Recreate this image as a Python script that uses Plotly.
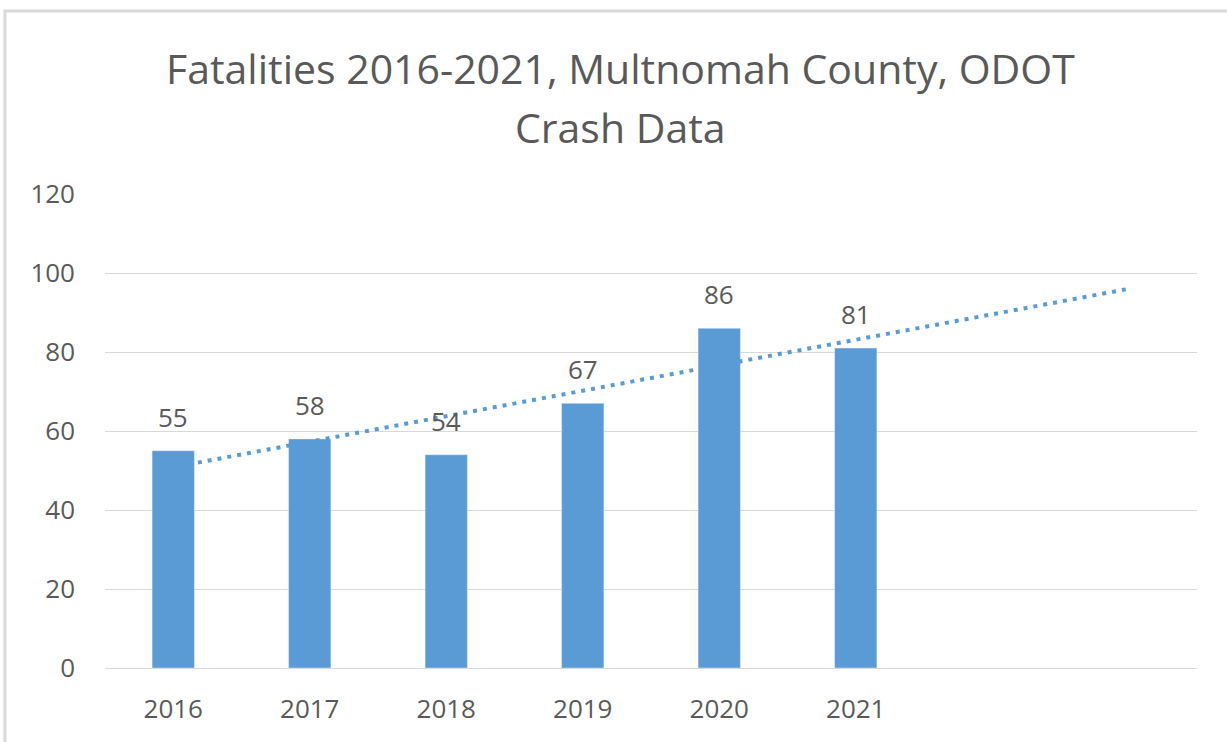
import plotly.graph_objects as go

# fatalities per year (ODOT crash data)
years = [2016, 2017, 2018, 2019, 2020, 2021]
fatalities = [55, 58, 54, 67, 86, 81]
year_labels = ['2016', '2017', '2018', '2019', '2020', '2021']

# linear trend line as drawn in the chart
trend_x = [2016.18, 2023.0]
trend_y = [52, 96]

title_lines = ['Fatalities 2016-2021, Multnomah County, ODOT', 'Crash Data']

bar_color = '#5b9bd5'
text_color = '#595959'
font = 'Open Sans'

fig = go.Figure()
fig.add_trace(go.Bar(x=years, y=fatalities, marker_color=bar_color,
                     width=0.31, showlegend=False))
fig.add_trace(go.Scatter(x=trend_x, y=trend_y, mode='lines',
                         line=dict(color=bar_color, width=4, dash='4px,6px'),
                         showlegend=False))

# data labels above the bars
for yr, val in zip(years, fatalities):
    fig.add_annotation(x=yr, y=val, text=str(val), showarrow=False,
                       yanchor='bottom', yshift=14,
                       font=dict(family=font, size=26, color=text_color))

# two-line title, spaced like the original
for line, ypos in zip(title_lines, [1.2658, 1.1414]):
    fig.add_annotation(xref='paper', yref='paper', x=0.472, y=ypos,
                       text=line, showarrow=False, xanchor='center',
                       yanchor='middle',
                       font=dict(family=font, size=41, color=text_color))

# light border of the chart area
fig.add_shape(type='rect', xref='paper', yref='paper',
              x0=-0.0916, x1=1.2, y0=-0.2, y1=1.386,
              line=dict(color='#d9d9d9', width=3))

fig.update_layout(
    width=1227, height=742,
    margin=dict(l=105, r=30, t=194, b=74),
    paper_bgcolor='white', plot_bgcolor='white',
)
fig.update_xaxes(range=[2015.5, 2023.5], tickvals=years, ticktext=year_labels,
                 showgrid=False, zeroline=False, showline=True,
                 linecolor='#d9d9d9', linewidth=1, ticks='',
                 ticklabelstandoff=18,
                 tickfont=dict(family=font, size=26, color=text_color))
fig.update_yaxes(range=[0, 120], dtick=20, showgrid=True, gridcolor='#d9d9d9',
                 gridwidth=1, zeroline=False, showline=False, ticks='',
                 ticklabelstandoff=29,
                 tickfont=dict(family=font, size=26, color=text_color))

# drop the default page margin so the figure sits at the window's corner
fig.write_html("out.html", config={'displayModeBar': False},
               post_script="document.body.style.margin='0';")
